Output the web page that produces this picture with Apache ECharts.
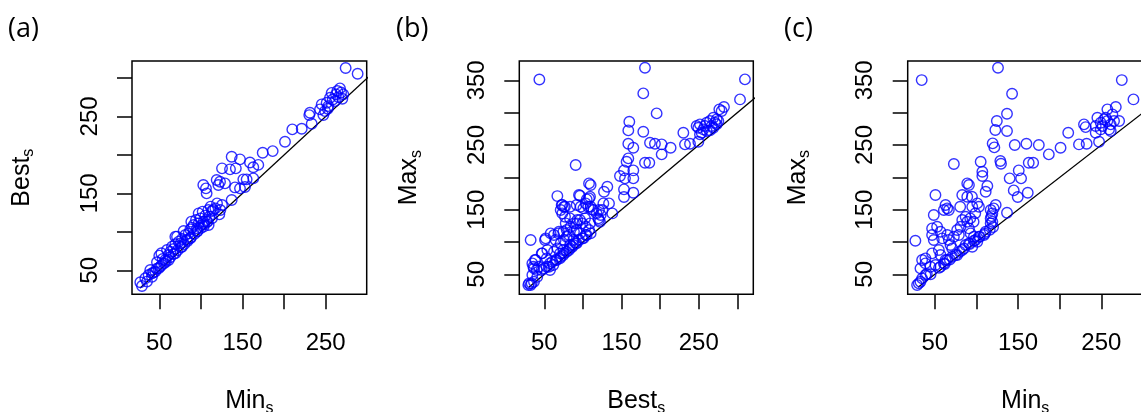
<!DOCTYPE html>
<html><head><meta charset="utf-8">
<script src="https://cdn.jsdelivr.net/npm/echarts@6/dist/echarts.min.js"></script>
<style>html,body{margin:0;padding:0;background:#fff}#c{width:1141px;height:412px}</style>
</head><body><div id="c"></div>
<script>
// Panel (a): Min_s (x) vs Best_s (y)
const panelA = [
[27.2,34.4],[29.2,29.5],[35.2,35.3],[33.2,39.6],[37.2,43.9],[41.2,46.1],[45.2,48.3],[39.2,50.4],[49.2,52.6],[47.2,60.4],[50.0,69.0],[52.5,72.1],[54.1,64.7],[55.7,59.1],[57.3,63.4],[61.3,69.9],[59.3,76.4],[63.3,74.2],[65.3,80.7],[67.3,77.7],[69.3,83.8],[73.3,87.2],[71.3,93.7],[77.3,90.7],[81.3,95.9],[79.3,101.1],[85.3,98.0],[87.3,103.2],[89.3,105.4],[91.3,108.9],[88.5,113.2],[94.1,115.4],[97.3,111.0],[99.3,117.5],[97.3,124.0],[102.1,126.2],[105.3,121.0],[107.3,113.2],[110.1,119.7],[113.3,127.0],[111.7,132.7],[117.4,130.5],[119.4,137.0],[123.4,128.3],[122.2,122.7],[125.4,134.8],[69.3,93.7],[75.3,85.0],[83.3,89.4],[95.3,104.5],[101.3,108.9],[103.3,113.2],[109.3,108.9],
[41.2,41.5],[51.2,54.8],[61.3,63.4],[69.3,72.1],[77.3,80.7],[87.3,91.5],[95.3,100.2],[103.3,106.7],[113.3,117.5],
[43,47],[47,52],[53,57],[58,61],[63,67],[67,71],[72,76],[76,80],[80,84],[84,88],[88,93],[92,97],[96,101],[100,105],[104,110],[108,113],
[102.9,160.8],[106.1,156.5],[106.9,150],[119,167.3],[123,165.1],[129,163],[121,160.8],[125.4,182.5],[135,181.2],[142,182.5],[137,197.5],[147,194.2],[159,190],[163,184],[169,187],[141,157.7],[147,156.5],[153,158.2],[151,168.2],[155,168.2],[163,169.5],[137,141.3],[109,128.3],[115,128.3],
[174.3,202.7],[186.3,204.9],[201.1,217],[209.9,233.1],[221.2,233.9],[233.2,240.4],[231.1,254.7],[230.3,251.7],[243.2,259.1],[245.2,265.6],[249.2,256.9],[247.2,251.7],[251.2,267.7],[253.2,263.4],[255.2,274.2],[257.2,280.6],[261.2,269.9],[262.4,278.6],[265.2,275.1],[267.2,286.4],[271.2,278.6],[274,313],[288.4,305.5],[264,283],[258.5,272],[268.5,281],[252.5,260],[270,273]
];
// Panel (b): Best_s (x) vs Max_s (y)
const panelB = [
[43.6,351.4],[180.4,369.5],
[309.9,351.5],[303.5,320.5],[282.7,308.7],[276.7,305.1],[279.7,302.5],[268.9,292.2],[273.2,289.6],[275.4,287.0],[264.6,287.0],[271.1,284.5],[260.3,284.5],[266.8,279.3],[268.9,276.7],[258.1,279.3],[251.6,281.9],[249.5,276.7],[255.9,274.1],[260.3,271.6],[253.8,269.0],[251.6,266.4],[264.6,272.6],[273.2,281.9],[247.3,279.3],[249.5,255.1],[230.1,269.0],[232.2,251.0],[238.7,252.0],[195.5,298.9],[178.2,329.8],[160.1,286.0],[158.8,272.6],[158.8,252.0],[165.3,245.8],[178.2,270.5],[186.9,253.5],[193.3,252.0],[202.0,250.9],[202.0,235.5],[213.6,245.8],[180.4,222.6],[186.0,222.6],[158.8,229.3],[156.6,224.1],[153.2,210.7],[154.5,198.4],[165.3,210.7],[165.3,198.4],[148.0,202.0],[153.2,181.4],[153.2,169.5],[165.3,176.2],
[90.6,219.0],[107.9,190.6],[110.0,188.1],[131.6,185.5],[127.3,177.7],[66.9,171.0],[73.3,157.1],[75.5,154.5],[71.2,149.4],[73.3,144.2],[94.9,172.6],[107.9,167.4],[97.1,154.5],[110.0,154.5],[103.6,159.7],[133.8,159.7],[120.8,149.4],[123.0,141.7],[120.8,133.9],[125.2,149.4],[138.1,144.2],[32.3,103.0],[51.7,105.6],[58.2,113.3],[62.5,110.7],[64.7,103.0],[69.0,115.9],[77.7,128.8],[84.1,123.6],[88.4,128.8],[92.8,133.9],[99.2,128.8],[103.6,123.6],[107.9,118.5],[110.0,113.3],[88.4,115.9],[82.0,110.7],[75.5,103.0],[71.2,97.9],[66.9,90.1],[62.5,85.0],[53.9,87.5],[47.4,82.4],[38.8,72.1],[34.5,66.9],[36.6,59.2],[43.1,61.8],[49.6,59.2],[56.1,61.8],[60.4,69.5],[64.7,72.1],[71.2,77.2],[75.5,82.4],[82.0,87.5],[86.3,92.7],[90.6,97.9],[94.9,103.0],[99.2,105.6],[103.6,110.7],[34.5,48.9],[30.2,36.0],[32.3,33.4],[36.6,38.6],[40.9,46.3],
[79.0,108.2],[83.3,95.3],[87.6,103.0],[96.2,113.3],[91.9,118.5],[79.0,118.5],[70.3,82.4],[74.6,87.6],[66.0,72.1],[57.4,67.0],[53.1,74.7],[46.6,82.4],[37.9,72.1],[35.8,61.8],[40.1,56.6],[29.3,33.4],[33.6,36.0],[50.9,103.0],[68.2,113.3],[74.6,115.9],[76.8,139.1],[83.3,136.5],[91.9,128.8],[96.2,134.0],[102.7,136.5],[109.2,128.8],[72.5,157.1],[76.8,154.6],[83.3,154.6],[91.9,157.1],[100.6,152.0],[107.0,154.6],[111.3,150.4],[117.8,144.3],[120.0,136.5],[122.1,131.4],[113.5,149.4],[96.2,171.6],[104.9,165.9],[109.2,170.0],[126.5,159.7],
[53.1,61.8],[57.4,56.6],[61.7,64.4],[70.3,74.7],[74.6,79.8],[79.0,85.0],[83.3,90.1],[87.6,95.3],[91.9,97.9],[100.6,105.6],[104.9,110.7],[46.6,56.6]
];
// Panel (c): Min_s (x) vs Max_s (y)
const panelC = [
[34.3,350.4],[125.9,369.5],[142.8,329.3],
[274.5,350.4],[288.5,320.5],[267.3,308.7],[257.2,305.1],[263.2,297.3],[245.2,292.2],[253.2,289.6],[257.2,287.0],[249.2,284.5],[265.2,287.0],[271.3,287.0],[261.2,281.9],[251.2,279.3],[243.2,279.3],[249.2,274.1],[259.2,274.1],[229.1,281.9],[231.1,277.7],[243.2,269.0],[247.2,255.1],[261.2,271.6],[255.2,292.2],[210.2,269.0],[201.0,245.8],[186.9,235.5],[174.9,249.9],[160.0,252.0],[146.0,250.0],[223.1,250.9],[232.3,252.0],[162.8,222.6],[168.1,222.6],[150.8,210.7],[153.6,198.4],[139.9,198.4],[144.8,179.8],[149.6,169.5],[161.6,176.2],[136.7,298.4],[136.7,271.6],[124.5,287.0],[128.7,225.2],[129.5,221.1],[136.7,145.3],
[122.7,273.1],[119.5,252.5],[121.5,246.3],
[72.9,220.5],[105.1,224.1],[107.1,208.7],[107.1,202.0],[113.1,186.5],[111.1,177.7],[89.0,190.6],[91.0,188.1],[83.0,172.6],[89.0,170.0],[101.0,159.7],[95.0,154.5],[103.0,154.5],[123.1,157.1],[117.1,149.4],[119.1,144.2],[117.1,136.5],[119.1,131.4],[117.1,128.8],
[50.8,172.6],[62.9,157.1],[64.9,152.0],[60.9,149.4],[66.9,149.4],[48.8,141.7],[26.7,102.0],[46.8,121.0],[52.8,123.6],[56.9,115.9],[46.8,110.7],[48.8,103.0],[58.9,105.6],[64.9,110.7],[66.9,103.0],[68.9,95.3],[70.9,90.1],[72.9,108.2],[76.9,118.5],[78.9,110.7],[81.0,123.6],[83.0,133.9],[87.0,139.1],[89.0,131.4],[91.0,121.0],[93.0,113.3],[97.0,108.2],[99.0,103.0],[91.0,97.8],[87.0,95.3],[83.0,87.5],[76.9,79.8],[70.9,77.2],[64.9,72.1],[56.9,79.8],[54.9,87.5],[46.8,82.4],[38.8,74.7],[34.8,72.1],[32.8,59.2],[38.8,66.9],[44.8,61.8],[50.8,64.4],[56.9,61.8],[60.9,66.9],[62.9,72.1],[103.0,108.2],[109.1,110.7],[111.1,115.9],[95.0,92.7],[101.0,100.4],[28.8,33.4],[30.8,36.0],[34.8,43.7],[38.8,48.9],[32.8,38.6],
[45,50],[55,60],[62,66],[68,73],[75,80],[80,85],[85,90],[92,97],[97,102],[104,108],[110,113],[116,119],[120,123],
[120.7,152.0],[118.1,140],[80.5,154.6],[92.6,136.5],[96.6,131.4],[98.6,144.3],[40.4,50.5],[94.6,170.0]
];
// axis ticks and labels
const ticksMinA = [50,100,150,200,250];
const ticksBestA = [50,100,150,200,250,300];
const ticksBestB = [50,100,150,200,250,300];
const ticksMax = [50,100,150,200,250,300,350];
const labelsX = [50,150,250];
const labelsMax = [50,150,250,350];
const labelsBest = [50,150,250];
const refLineA = [[27,27],[400,400]];
const refLineB = [[30,30],[400,400]];
const refLineC = [[30,30],[400,400]];
const panelTags = ['(a)','(b)','(c)'];

const FONT = 'Liberation Sans';
function nameStyle(){
  return {color:'#000', rich:{
    m:{fontSize:25, fontFamily:FONT, color:'#000', lineHeight:30},
    s:{fontSize:16, fontFamily:FONT, color:'#000', lineHeight:16, verticalAlign:'bottom'}
  }};
}
function xAx(i, min, max, ticks, labels, nm){
  return {gridIndex:i, type:'value', min:min, max:max,
    axisLine:{show:false, onZero:false}, splitLine:{show:false},
    axisTick:{show:true, customValues:ticks, length:15, lineStyle:{color:'#000', width:1.5}},
    axisLabel:{customValues:labels, margin:37.5, fontSize:24, fontFamily:FONT, color:'#000'},
    name:nm, nameLocation:'middle', nameGap:92, nameTextStyle:nameStyle()};
}
function yAx(i, min, max, ticks, labels, nm){
  return {gridIndex:i, type:'value', min:min, max:max,
    axisLine:{show:false, onZero:false}, splitLine:{show:false},
    axisTick:{show:true, customValues:ticks, length:15, lineStyle:{color:'#000', width:1.5}},
    axisLabel:{customValues:labels, margin:30, rotate:90, fontSize:24, fontFamily:FONT, color:'#000'},
    name:nm, nameLocation:'middle', nameRotate:90, nameGap:95, nameTextStyle:nameStyle()};
}
function pts(i, data){
  return {type:'scatter', xAxisIndex:i, yAxisIndex:i, data:data, symbol:'circle', symbolSize:10.5,
    itemStyle:{color:'rgba(0,0,0,0)', borderColor:'#0000FF', borderWidth:1.4}, silent:true, z:3};
}
function ref(i, data){
  return {type:'line', xAxisIndex:i, yAxisIndex:i, data:data, symbol:'none', clip:true,
    lineStyle:{color:'#000', width:1.3}, silent:true, z:2};
}
const gridBase = {top:61, height:233.3, show:true, borderColor:'#000', borderWidth:1.5,
  backgroundColor:'rgba(0,0,0,0)', containLabel:false, outerBoundsMode:'none'};
const option = {
  animation:false,
  backgroundColor:'#fff',
  grid:[
    Object.assign({left:132, width:234.7}, gridBase),
    Object.assign({left:519.3, width:234}, gridBase),
    Object.assign({left:907.7, width:235}, gridBase)
  ],
  xAxis:[
    xAx(0, 17.2, 299.3, ticksMinA, labelsX, '{m|Min}{s|s}'),
    xAx(1, 17.6, 320.7, ticksBestB, labelsBest, '{m|Best}{s|s}'),
    xAx(2, 17.5, 299.6, ticksMinA, labelsX, '{m|Min}{s|s}')
  ],
  yAxis:[
    yAx(0, 18.8, 322, ticksBestA, labelsBest, '{m|Best}{s|s}'),
    yAx(1, 19.1, 379.9, ticksMax, labelsMax, '{m|Max}{s|s}'),
    yAx(2, 19.1, 379.9, ticksMax, labelsMax, '{m|Max}{s|s}')
  ],
  series:[ref(0, refLineA), pts(0, panelA), ref(1, refLineB), pts(1, panelB), ref(2, refLineC), pts(2, panelC)],
  graphic:[
    {type:'text', left:8, top:16, style:{text:panelTags[0], font:'27px "Open Sans"', fill:'#000'}},
    {type:'text', left:396, top:16, style:{text:panelTags[1], font:'27px "Open Sans"', fill:'#000'}},
    {type:'text', left:784, top:16, style:{text:panelTags[2], font:'27px "Open Sans"', fill:'#000'}}
  ]
};
const chart = echarts.init(document.getElementById('c'), null, {renderer:'canvas'});
chart.setOption(option);
</script>
</body></html>
